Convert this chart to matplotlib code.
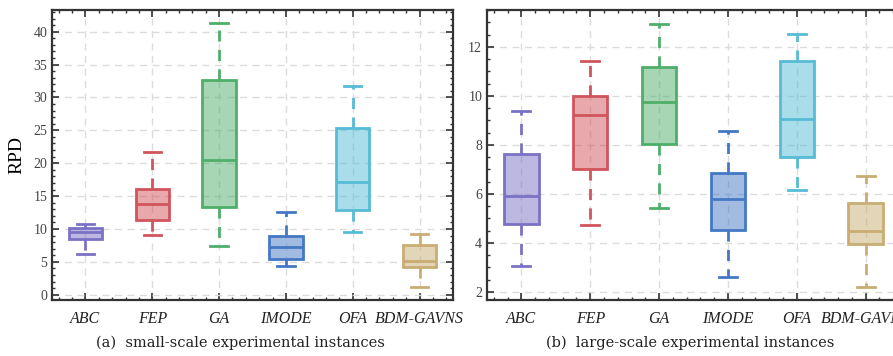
import matplotlib
matplotlib.use("Agg")
import matplotlib.pyplot as plt
from matplotlib.ticker import MultipleLocator
import matplotlib.colors as mcolors

algorithms = ["ABC", "FEP", "GA", "IMODE", "OFA", "BDM-GAVNS"]
colors = ["#7a72c4", "#d2545c", "#4fae6a", "#4478c4", "#56bcd6", "#c9ad72"]

# small-scale: (whisker low, Q1, median, Q3, whisker high)
small_low = [6.2, 9.1, 7.4, 4.4, 9.5, 1.2]
small_q1 = [8.5, 11.3, 13.3, 5.5, 12.9, 4.15]
small_med = [9.6, 13.8, 20.5, 7.2, 17.2, 5.2]
small_q3 = [10.2, 16.1, 32.6, 8.9, 25.4, 7.6]
small_high = [10.7, 21.7, 41.3, 12.6, 31.7, 9.2]

# large-scale
large_low = [3.07, 4.71, 5.43, 2.61, 6.16, 2.2]
large_q1 = [4.79, 7.0, 8.05, 4.53, 7.51, 3.97]
large_med = [5.92, 9.2, 9.74, 5.78, 9.07, 4.49]
large_q3 = [7.62, 10.0, 11.16, 6.87, 11.43, 5.62]
large_high = [9.39, 11.43, 12.94, 8.58, 12.54, 6.73]

captions = ["(a)  small-scale experimental instances", "(b)  large-scale experimental instances"]

fig = plt.figure(figsize=(8.93, 3.56), dpi=100)
W, H = 893, 356
ax1 = fig.add_axes([52 / W, 1 - 300 / H, (453 - 52) / W, 290 / H])
ax2 = fig.add_axes([487 / W, 1 - 300 / H, (900 - 487) / W, 290 / H])


def make_stats(low, q1, med, q3, high):
    out = []
    for i in range(len(low)):
        out.append(dict(whislo=low[i], q1=q1[i], med=med[i], q3=q3[i], whishi=high[i], fliers=[], label=algorithms[i]))
    return out


def draw(ax, stats, ylim, major, minor):
    for i, st in enumerate(stats):
        c = colors[i]
        bp = ax.bxp([st], positions=[i + 1], widths=0.5, patch_artist=True, showfliers=False,
                    capwidths=0.26, manage_ticks=False)
        for b in bp["boxes"]:
            b.set_facecolor(mcolors.to_rgba(c, 0.5))
            b.set_edgecolor(c)
            b.set_linewidth(2)
            b.set_zorder(3)
        for m in bp["medians"]:
            m.set_color(c)
            m.set_linewidth(2)
            m.set_zorder(4)
        for w in bp["whiskers"]:
            w.set_color(c)
            w.set_linewidth(2)
            w.set_linestyle((0, (4, 3)))
            w.set_zorder(3)
        for cp in bp["caps"]:
            cp.set_color(c)
            cp.set_linewidth(2)
            cp.set_zorder(3)
    ax.set_xlim(0.5, 6.5)
    ax.set_ylim(*ylim)
    ax.set_xticks(range(1, 7))
    ax.set_xticklabels(algorithms, fontstyle="italic", family="Liberation Serif", fontsize=11.5)
    ax.xaxis.set_minor_locator(MultipleLocator(0.2))
    ax.yaxis.set_major_locator(MultipleLocator(major))
    ax.yaxis.set_minor_locator(MultipleLocator(minor))
    for lab in ax.get_yticklabels():
        lab.set_family("Liberation Serif")
    ax.tick_params(axis="both", which="both", direction="in", top=True, right=True, colors="#333333")
    ax.tick_params(axis="both", which="major", length=5, width=1.2, labelsize=10, labelcolor="#444444")
    ax.tick_params(axis="x", which="major", labelsize=11.5, labelcolor="#222222", pad=8)
    ax.tick_params(axis="both", which="minor", length=2.5, width=1)
    ax.grid(True, which="major", linestyle=(0, (5, 4)), color="#dcdcdc", linewidth=1, zorder=0)
    ax.set_axisbelow(True)
    for s in ax.spines.values():
        s.set_color("#333333")
        s.set_linewidth(1.6)


draw(ax1, make_stats(small_low, small_q1, small_med, small_q3, small_high), (-0.8, 43.3), 5, 1)
draw(ax2, make_stats(large_low, large_q1, large_med, large_q3, large_high), (1.67, 13.5), 2, 0.5)

ax1.set_ylabel("RPD", family="Liberation Serif", fontsize=14, labelpad=6)

fig.text(240 / W, 1 - 343 / H, captions[0], ha="center", va="center", family="DejaVu Serif", fontsize=10.5, color="#222222")
fig.text(690 / W, 1 - 343 / H, captions[1], ha="center", va="center", family="DejaVu Serif", fontsize=10.5, color="#222222")

fig.savefig("out.png", dpi=100)
